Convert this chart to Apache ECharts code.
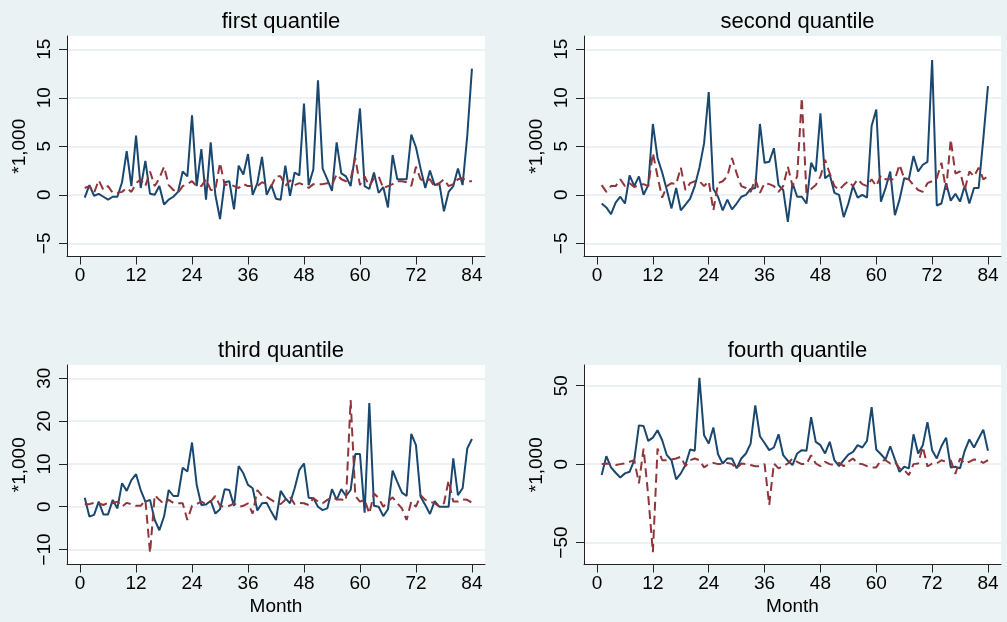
<!DOCTYPE html>
<html>
<head>
<meta charset="utf-8">
<script src="https://cdn.jsdelivr.net/npm/echarts@6/dist/echarts.min.js"></script>
<style>
html,body{margin:0;padding:0;background:#EAF2F3;}
#c{width:1007px;height:622px;}
</style>
</head>
<body>
<div id="c"></div>
<script>
// ---- data ----
var months = Array.from({length: 84}, function (_, i) { return i + 1; });
var xTicks = [0, 12, 24, 36, 48, 60, 72, 84];
var yTicksQ1 = [-5, 0, 5, 10, 15];
var yTicksQ2 = [-5, 0, 5, 10, 15];
var yTicksQ3 = [-10, 0, 10, 20, 30];
var yTicksQ4 = [-50, 0, 50];
var titles = ['first quantile', 'second quantile', 'third quantile', 'fourth quantile'];

var q1Solid = [-0.3,1.0,-0.1,0.1,-0.2,-0.5,-0.2,-0.2,1.3,4.5, 0.9,6.1,0.7,3.5,0.1,0,0.9,-1.0,-0.5,-0.2, 0.3,2.4,1.9,8.2,0.9,4.7,-0.5,5.4,0,-2.5, 1.3,1.4,-1.5,3.0,2.1,4.2,0,1.2,3.9,0, 1.0,-0.4,-0.5,3.0,-0.1,2.3,2.0,9.4,1.0,2.6, 11.8,2.7,1.6,0.4,5.4,2.2,1.9,0.9,4.3,8.9, 0.9,0.6,2.3,0.2,0.8,-1.3,4.1,1.6,1.6,1.6, 6.2,4.9,2.7,0.7,2.5,1.0,1.2,-1.7,0.3,0.9, 2.7,1.0,6.1,13.0];
var q1Dash = [0.7,0.9,0.2,1.5,0.5,0.9,0.2,0.2,0.3,0.7, 0.3,1.2,1.6,0.9,2.4,0.9,1.7,2.9,1.0,0.5, 0.2,0.9,1.1,1.4,0.9,0.9,1.6,0.5,0.5,3.3, 1.0,1.1,0.9,0.7,1.1,0.9,0.9,0.9,1.3,1.1, 0.9,1.9,1.9,0.9,1.5,1.0,1.2,1.0,0.7,1.1, 1.1,1.1,1.2,1.0,2.1,1.6,1.4,1.6,3.8,1.0, 1.9,0.9,1.7,1.9,0.7,0.9,1.1,1.4,1.4,1.3, 0.9,2.9,1.6,1.4,1.6,0.8,1.2,1.6,0.9,1.1, 1.6,1.7,1.4,1.4];

var q2Solid = [-0.9,-1.3,-2.0,-0.8,-0.2,-0.9,2.0,0.9,1.9,0, 1.0,7.3,3.8,2.3,0.5,-1.4,0.7,-1.6,-1.0,-0.4, 0.9,2.8,5.3,10.6,0.6,-0.2,-1.6,-0.5,-1.5,-0.9, -0.2,0,0.6,0.7,7.3,3.3,3.4,4.8,1.0,0.5, -2.8,1.2,-0.2,-0.2,-0.9,3.3,2.4,8.4,1.7,2.1, 0.2,0,-2.3,-0.9,0.9,-0.3,0,-0.3,7.1,8.8, -0.7,0.7,2.4,-2.1,-0.5,1.7,1.6,4.0,2.4,3.1, 3.4,13.9,-1.1,-0.9,1.2,-0.6,0.1,-0.7,0.9,-0.9, 0.7,0.7,5.8,11.2];
var q2Dash = [1.0,0.3,0.9,0.9,1.6,0.9,1.2,0.8,1.0,1.1, 0.9,4.3,1.9,-0.3,0.9,1.2,1.1,2.8,0.5,1.2, 1.4,1.4,0.9,1.4,-1.6,1.2,1.4,1.9,3.8,2.2, 0.9,0.7,0.3,1.6,0.2,1.2,1.1,0.9,0.3,0.9, 2.9,0.9,1.9,10.0,0.2,0.6,1.0,1.9,3.6,2.2, 0.9,0.5,1.0,1.4,0.9,1.6,1.1,0.9,1.6,0.9, 2.0,1.6,1.6,1.6,3.1,1.7,1.6,1.0,0.5,0.3, 1.2,1.4,1.7,3.3,0.5,5.7,2.2,2.4,0.5,2.4, 1.9,2.8,1.6,1.9];

var q3Solid = [2.1,-2.3,-1.9,1.2,-1.8,-1.8,1.6,-0.4,5.5,3.7, 6.2,7.6,3.9,1.2,1.6,-3.1,-5.5,-2.3,3.9,2.5, 2.5,9.1,8.2,15.0,5.1,0.4,0.5,1.4,-1.6,-0.6, 4.1,3.9,0.2,9.5,7.8,5.1,4.3,-0.9,0.8,0.9, -1.2,-3.1,3.7,2.0,0.8,4.3,8.6,10.1,2.1,2.0, 0,-0.8,-0.4,4.1,1.6,4.1,2.5,3.9,12.3,12.3, -1.4,24.2,0.2,0,-2.2,-0.6,8.4,5.8,3.3,2.5, 17.0,14.4,2.3,0.4,-1.7,1.3,0,0,0,11.3, 2.7,4.3,13.6,15.8];
var q3Dash = [0.6,0.6,0.9,0.8,0.4,0.9,0.8,1.2,0,0.9, 0.6,0.2,0.2,1.6,-10.8,2.7,1.6,0.6,1.6,0.9, 0.8,0.8,-3.1,0.2,0.6,1.2,0.6,1.2,2.5,0.2, 0,0.2,0.8,0,0.2,0.8,-1.6,3.9,2.5,2.3, 1.6,0.9,0.6,1.6,2.3,0.6,0.9,0.8,0.4,2.0, 1.2,0.8,1.6,2.2,1.7,1.7,1.4,24.9,2.5,1.2, 1.6,-1.6,3.1,2.0,0,1.2,2.2,0.8,-0.4,-3.1, 1.2,0,2.7,1.6,1.2,0.8,0,0.8,6.1,1.2, 1.2,1.7,1.6,0.9];

var q4Solid = [-7.0,5.1,-2.1,-5.5,-8.5,-5.9,-4.9,2.5,24.7,24.3, 14.8,16.9,21.6,15.2,5.7,2.5,-9.7,-5.9,-0.6,9.3, 8.5,55.0,18.4,13.1,23.3,6.3,0.4,3.6,3.6,-2.7, 3.6,6.8,13.1,37.4,17.8,13.5,8.9,10.6,19.0,5.7, 2.1,-0.6,6.8,8.9,8.5,30.0,14.2,12.1,6.8,14.2, 2.5,-1.3,2.5,6.1,7.8,12.1,10.6,14.8,36.4,9.3, 6.3,3.0,11.4,3.0,-4.9,-1.7,-2.7,19.0,6.8,12.1, 26.8,8.9,3.6,11.4,16.9,-2.1,-1.7,-2.7,8.5,15.7, 10.6,16.3,22.0,8.5];
var q4Dash = [0,0.4,0,-0.6,0,0.4,1.5,2.5,-12.3,9.9, -20.0,-56.2,9.9,2.5,2.5,3.0,3.6,4.7,-1.3,2.5, 3.6,2.5,-2.1,0,0.8,0,0,0.8,0,-2.7, 0.4,0,-0.6,-1.3,-1.3,0,-26.0,0.4,-2.7,-1.3, 0.4,3.6,1.5,0,0,5.7,0.4,-1.3,1.5,0, -0.6,0.8,-1.3,1.5,3.6,0.4,0,-1.3,-2.1,-2.1, 2.5,2.5,0.4,1.5,-2.7,-3.8,-7.0,0,0.4,11.0, -1.5,0.4,0.4,2.5,1.5,2.5,-6.3,3.6,0.4,1.5, 3.0,2.5,0.8,2.5];

// ---- styling / layout ----
var NAVY = '#1A476F', MAROON = '#90353B', BG = '#EAF2F3';
var FONT = 'Liberation Sans, Arial, sans-serif';
var panels = [
  {left: 67,  top: 36,  width: 418, height: 220.5, yMin: -6.36, yMax: 16.37, ticks: yTicksQ1, solid: q1Solid, dash: q1Dash, xName: ''},
  {left: 584, top: 36,  width: 417, height: 220.5, yMin: -6.36, yMax: 16.37, ticks: yTicksQ2, solid: q2Solid, dash: q2Dash, xName: ''},
  {left: 67,  top: 365, width: 418, height: 199.5, yMin: -13.5, yMax: 33.1,  ticks: yTicksQ3, solid: q3Solid, dash: q3Dash, xName: 'Month'},
  {left: 584, top: 365, width: 417, height: 199.5, yMin: -64.0, yMax: 63.2,  ticks: yTicksQ4, solid: q4Solid, dash: q4Dash, xName: 'Month'}
];

function fmt(v) { return v < 0 ? '\u2212' + Math.abs(v) : String(v); }
function pairs(ys) { return months.map(function (m, i) { return [m, ys[i]]; }); }

var grid = [], xAxis = [], yAxis = [], series = [], title = [];
panels.forEach(function (p, i) {
  grid.push({left: p.left, top: p.top, width: p.width, height: p.height,
    show: true, backgroundColor: '#ffffff', borderWidth: 0, containLabel: false});
  title.push({text: titles[i], left: p.left + p.width / 2, top: p.top - 30, textAlign: 'center',
    textStyle: {fontFamily: FONT, fontSize: 22, fontWeight: 'normal', color: '#000'}});
  xAxis.push({type: 'value', gridIndex: i, min: -2.8, max: 86.8,
    name: p.xName, nameLocation: 'middle', nameGap: 33,
    nameTextStyle: {fontFamily: FONT, fontSize: 19, color: '#000'},
    axisLine: {show: true, onZero: false, lineStyle: {color: '#222', width: 1}},
    axisTick: {show: true, customValues: xTicks, length: 8, lineStyle: {color: '#222', width: 1}},
    axisLabel: {customValues: xTicks, margin: 10, fontFamily: FONT, fontSize: 19, color: '#000'},
    splitLine: {show: false}});
  yAxis.push({type: 'value', gridIndex: i, min: p.yMin, max: p.yMax,
    name: '*1,000', nameLocation: 'middle', nameGap: 38,
    nameTextStyle: {fontFamily: FONT, fontSize: 19, color: '#000'},
    axisLine: {show: true, onZero: false, lineStyle: {color: '#222', width: 1}},
    axisTick: {show: true, customValues: p.ticks, length: 8, lineStyle: {color: '#222', width: 1}},
    axisLabel: {customValues: p.ticks, rotate: 90, margin: 13, fontFamily: FONT, fontSize: 19, color: '#000', formatter: fmt},
    splitLine: {show: true, lineStyle: {color: '#E6EEF0', width: 1.5}}});
  series.push({type: 'line', xAxisIndex: i, yAxisIndex: i, data: pairs(p.solid), symbol: 'none',
    lineStyle: {color: NAVY, width: 2}, itemStyle: {color: NAVY}, animation: false, z: 2});
  series.push({type: 'line', xAxisIndex: i, yAxisIndex: i, data: pairs(p.dash), symbol: 'none',
    lineStyle: {color: MAROON, width: 2, type: [9, 5]}, itemStyle: {color: MAROON}, animation: false, z: 3});
});

var chart = echarts.init(document.getElementById('c'), null, {renderer: 'canvas'});
chart.setOption({backgroundColor: BG, animation: false, title: title, grid: grid, xAxis: xAxis, yAxis: yAxis, series: series});
</script>
</body>
</html>
